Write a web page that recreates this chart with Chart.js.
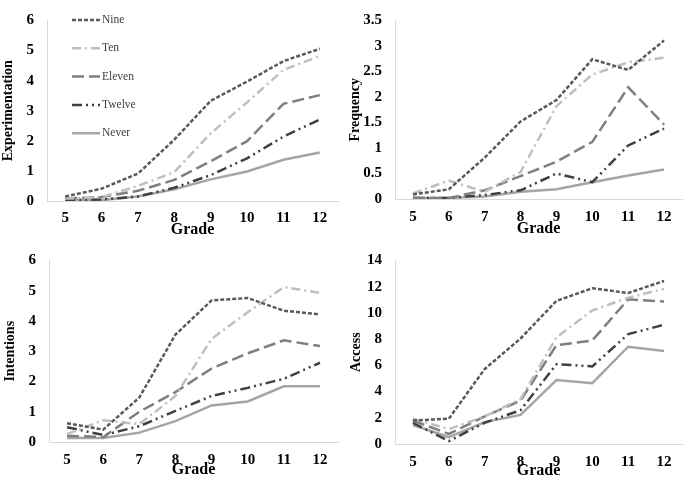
<!DOCTYPE html>
<html>
<head>
<meta charset="utf-8">
<script src="https://cdn.jsdelivr.net/npm/chart.js@4.4.1/dist/chart.umd.min.js"></script>
<style>
  body { margin: 0; background: #fff; }
  .panel { position: absolute; width: 342px; height: 240px; }
</style>
</head>
<body>
<div class="panel" style="left:0;top:0"><canvas id="c1" width="342" height="240"></canvas></div>
<div class="panel" style="left:342px;top:0"><canvas id="c2" width="342" height="240"></canvas></div>
<div class="panel" style="left:0;top:240px"><canvas id="c3" width="342" height="239"></canvas></div>
<div class="panel" style="left:342px;top:240px"><canvas id="c4" width="342" height="239"></canvas></div>
<script>
const grades = ['5', '6', '7', '8', '9', '10', '11', '12'];
const seriesNames = ['Nine', 'Ten', 'Eleven', 'Twelve', 'Never'];

// rows follow seriesNames
const experimentation = [
  [0.15, 0.41, 0.91, 2.04, 3.33, 3.97, 4.65, 5.06],
  [0.08, 0.13, 0.50, 0.96, 2.25, 3.28, 4.36, 4.82],
  [0.08, 0.13, 0.34, 0.70, 1.32, 1.99, 3.23, 3.52],
  [0.03, 0.05, 0.15, 0.44, 0.86, 1.42, 2.14, 2.71],
  [0.03, 0.03, 0.15, 0.39, 0.72, 0.98, 1.37, 1.61]
];
const frequency = [
  [0.09, 0.19, 0.81, 1.52, 1.94, 2.74, 2.53, 3.11],
  [0.11, 0.36, 0.14, 0.53, 1.82, 2.44, 2.68, 2.77],
  [0.02, 0.02, 0.17, 0.45, 0.73, 1.12, 2.19, 1.46],
  [0.02, 0.02, 0.08, 0.17, 0.50, 0.33, 1.05, 1.38],
  [0.02, 0.02, 0.05, 0.14, 0.19, 0.33, 0.46, 0.58]
];
const intentions = [
  [0.62, 0.41, 1.47, 3.55, 4.68, 4.76, 4.34, 4.22],
  [0.26, 0.72, 0.59, 1.52, 3.41, 4.29, 5.12, 4.93],
  [0.21, 0.16, 1.00, 1.65, 2.43, 2.93, 3.36, 3.17],
  [0.49, 0.23, 0.52, 1.03, 1.52, 1.79, 2.09, 2.62],
  [0.13, 0.13, 0.31, 0.69, 1.21, 1.34, 1.84, 1.84]
];
const access = [
  [1.79, 1.93, 5.72, 8.05, 10.92, 11.88, 11.52, 12.44],
  [1.93, 1.14, 2.10, 3.43, 8.14, 10.19, 11.16, 11.84],
  [1.79, 0.77, 2.10, 3.31, 7.54, 7.90, 11.04, 10.87],
  [1.62, 0.22, 1.62, 2.58, 6.09, 5.92, 8.38, 9.10],
  [1.45, 0.53, 1.67, 2.22, 4.88, 4.64, 7.42, 7.10]
];

const lineColors = ['#595959', '#bfbfbf', '#7f7f7f', '#404040', '#a5a5a5'];
const lineDashes = [[4, 2], [9, 4, 2, 4], [12, 5], [10, 4, 2, 4, 2, 4], []];
const serif = 'Liberation Serif, Times New Roman, serif';

// legend drawn inside the plot area of the first panel
const innerLegend = {
  id: 'innerLegend',
  afterDraw(chart) {
    const ctx = chart.ctx;
    ctx.save();
    chart.data.datasets.forEach(function (ds, i) {
      const y = 20 + i * 28.3;
      ctx.strokeStyle = ds.borderColor;
      ctx.lineWidth = 2.5;
      ctx.setLineDash(ds.borderDash);
      ctx.beginPath();
      ctx.moveTo(72, y);
      ctx.lineTo(100, y);
      ctx.stroke();
      ctx.setLineDash([]);
      ctx.fillStyle = '#404040';
      ctx.font = '11.5px ' + serif;
      ctx.textBaseline = 'middle';
      ctx.fillText(ds.label, 102, y);
    });
    ctx.restore();
  }
};

function makeChart(id, title, rows, yMax, yStep, box, withLegend) {
  const datasets = rows.map(function (vals, i) {
    return {
      label: seriesNames[i],
      data: vals,
      borderColor: lineColors[i],
      borderDash: lineDashes[i],
      borderWidth: 2.5,
      pointRadius: 0,
      tension: 0,
      fill: false
    };
  });
  new Chart(document.getElementById(id), {
    type: 'line',
    data: { labels: grades, datasets: datasets },
    options: {
      responsive: false,
      animation: false,
      layout: { padding: { top: box.top, right: box.right, left: 0, bottom: 0 } },
      plugins: { legend: { display: false }, tooltip: { enabled: false } },
      scales: {
        x: {
          offset: true,
          grid: { display: false, drawTicks: false },
          border: { display: true, color: '#d9d9d9', width: 1 },
          ticks: { color: '#000', padding: box.tickPad, font: { family: serif, size: 15, weight: 'bold' } },
          title: {
            display: true, text: 'Grade', color: '#000',
            padding: { top: 0, bottom: box.gradePad },
            font: { family: serif, size: 16, weight: 'bold', lineHeight: 1 }
          },
          afterFit: function (scale) { scale.height = box.h - box.bottom; }
        },
        y: {
          min: 0, max: yMax,
          grid: { display: false, drawTicks: false },
          border: { display: true, color: '#d9d9d9', width: 1 },
          ticks: {
            stepSize: yStep, color: '#000', padding: 13,
            font: { family: serif, size: 15, weight: 'bold', lineHeight: 1 },
            callback: function (value) { return String(Math.round(value * 10) / 10); }
          },
          title: {
            display: true, text: title, color: '#000',
            padding: { top: box.titlePad, bottom: 0 },
            font: { family: serif, size: 14, weight: 'bold', lineHeight: 1.2 }
          },
          afterFit: function (scale) { scale.width = box.left; }
        }
      }
    },
    plugins: withLegend ? [innerLegend] : []
  });
}

makeChart('c1', 'Experimentation', experimentation, 6, 1,
  { left: 47, top: 7, right: 4, bottom: 201, h: 240, tickPad: 8, gradePad: 2, titlePad: 0 }, true);
makeChart('c2', 'Frequency', frequency, 3.5, 0.5,
  { left: 53, top: 7, right: 2, bottom: 199, h: 240, tickPad: 9, gradePad: 3, titlePad: 5 }, false);
makeChart('c3', 'Intentions', intentions, 6, 1,
  { left: 49, top: 8, right: 4, bottom: 202, h: 239, tickPad: 9, gradePad: 1, titlePad: 2 }, false);
makeChart('c4', 'Access', access, 14, 2,
  { left: 53, top: 11, right: 2, bottom: 204, h: 239, tickPad: 9, gradePad: 0, titlePad: 6 }, false);
</script>
</body>
</html>
